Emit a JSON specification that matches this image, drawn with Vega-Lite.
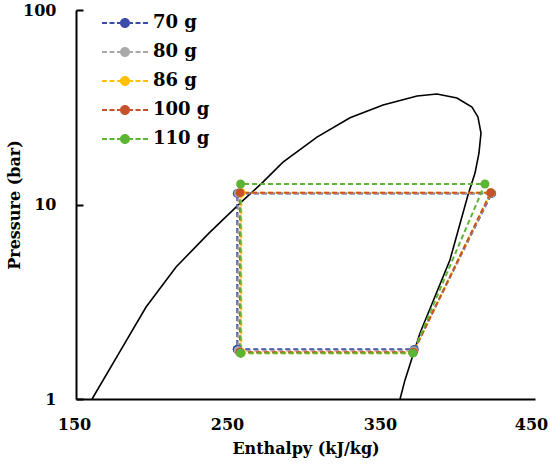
{
  "$schema": "https://vega.github.io/schema/vega-lite/v6.json",
  "autosize": {"type": "none"},
  "padding": {"left": 76, "top": 10, "right": 15, "bottom": 67},
  "width": 459,
  "height": 389,
  "background": "white",
  "config": {
    "view": {"stroke": null},
    "font": "DejaVu Serif",
    "axis": {
      "labelFont": "DejaVu Serif", "labelFontWeight": "bold", "labelFontSize": 16, "labelColor": "black",
      "titleFont": "DejaVu Serif", "titleFontWeight": "bold", "titleFontSize": 16, "titleColor": "black",
      "domainColor": "black", "domainWidth": 2, "grid": false
    }
  },
  "datasets": {
    "dome": [
      {"i": 1, "h": 160.5, "p": 1.0},
      {"i": 2, "h": 178.1, "p": 1.72},
      {"i": 3, "h": 195.8, "p": 2.97},
      {"i": 4, "h": 215.4, "p": 4.77},
      {"i": 5, "h": 236.9, "p": 7.13},
      {"i": 6, "h": 259.2, "p": 10.5},
      {"i": 7, "h": 272.0, "p": 13.0},
      {"i": 8, "h": 285.3, "p": 16.5},
      {"i": 9, "h": 307.5, "p": 22.2},
      {"i": 10, "h": 329.1, "p": 27.9},
      {"i": 11, "h": 350.7, "p": 32.5},
      {"i": 12, "h": 372.9, "p": 36.1},
      {"i": 13, "h": 385.9, "p": 37.0},
      {"i": 14, "h": 399.0, "p": 35.3},
      {"i": 15, "h": 408.8, "p": 31.7},
      {"i": 16, "h": 412.7, "p": 28.2},
      {"i": 17, "h": 414.7, "p": 23.3},
      {"i": 18, "h": 413.4, "p": 18.4},
      {"i": 19, "h": 410.8, "p": 14.5},
      {"i": 20, "h": 406.2, "p": 11.2},
      {"i": 21, "h": 394.4, "p": 5.18},
      {"i": 22, "h": 374.8, "p": 2.18},
      {"i": 23, "h": 365.0, "p": 1.25},
      {"i": 24, "h": 361.8, "p": 1.0}
    ],
    "cycles": [
      {"series": "70 g", "o": 1, "h": 255.4, "p": 1.8},
      {"series": "70 g", "o": 2, "h": 371.1, "p": 1.8},
      {"series": "70 g", "o": 3, "h": 421.7, "p": 11.4},
      {"series": "70 g", "o": 4, "h": 255.4, "p": 11.4},
      {"series": "70 g", "o": 5, "h": 255.4, "p": 1.8},
      {"series": "80 g", "o": 1, "h": 256.1, "p": 1.77},
      {"series": "80 g", "o": 2, "h": 370.8, "p": 1.77},
      {"series": "80 g", "o": 3, "h": 421.3, "p": 11.45},
      {"series": "80 g", "o": 4, "h": 256.1, "p": 11.45},
      {"series": "80 g", "o": 5, "h": 256.1, "p": 1.77},
      {"series": "86 g", "o": 1, "h": 258.0, "p": 1.73},
      {"series": "86 g", "o": 2, "h": 370.4, "p": 1.73},
      {"series": "86 g", "o": 3, "h": 421.0, "p": 11.5},
      {"series": "86 g", "o": 4, "h": 258.0, "p": 11.5},
      {"series": "86 g", "o": 5, "h": 258.0, "p": 1.73},
      {"series": "100 g", "o": 1, "h": 257.2, "p": 1.74},
      {"series": "100 g", "o": 2, "h": 370.5, "p": 1.74},
      {"series": "100 g", "o": 3, "h": 421.0, "p": 11.5},
      {"series": "100 g", "o": 4, "h": 257.2, "p": 11.5},
      {"series": "100 g", "o": 5, "h": 257.2, "p": 1.74},
      {"series": "110 g", "o": 1, "h": 257.6, "p": 1.72},
      {"series": "110 g", "o": 2, "h": 370.1, "p": 1.72},
      {"series": "110 g", "o": 3, "h": 417.3, "p": 12.75},
      {"series": "110 g", "o": 4, "h": 257.6, "p": 12.75},
      {"series": "110 g", "o": 5, "h": 257.6, "p": 1.72}
    ]
  },
  "encoding": {
    "x": {
      "field": "h", "type": "quantitative", "title": "Enthalpy (kJ/kg)",
      "scale": {"domain": [150, 450], "nice": false, "zero": false},
      "axis": {
        "values": [150, 250, 350, 450], "ticks": false, "labelPadding": 17, "titlePadding": 8, "labelFlush": false,
        "labelOffset": {"condition": {"test": "datum.value == 450", "value": -4}, "value": -2}
      }
    },
    "y": {
      "field": "p", "type": "quantitative", "title": "Pressure (bar)",
      "scale": {"type": "log", "domain": [1, 100], "nice": false},
      "axis": {"values": [1, 10, 100], "tickSize": -7, "tickColor": "black", "tickWidth": 2, "labelPadding": 27, "titlePadding": 0}
    }
  },
  "layer": [
    {
      "data": {"name": "dome"},
      "mark": {"type": "line", "color": "black", "strokeWidth": 1.6},
      "encoding": {"order": {"field": "i", "type": "quantitative"}}
    },
    {
      "data": {"name": "cycles"},
      "mark": {"type": "line", "strokeDash": [5, 3], "strokeWidth": 2},
      "encoding": {
        "order": {"field": "o", "type": "quantitative"},
        "color": {
          "field": "series", "type": "nominal", "legend": null,
          "scale": {"domain": ["70 g", "80 g", "86 g", "100 g", "110 g"], "range": ["#3B4BA6", "#A9A9A9", "#FFC000", "#C5522A", "#5DB535"]}
        }
      }
    },
    {
      "data": {"name": "cycles"},
      "mark": {"type": "point", "shape": "circle", "filled": true, "opacity": 1, "size": 80},
      "encoding": {
        "color": {
          "field": "series", "type": "nominal",
          "scale": {"domain": ["70 g", "80 g", "86 g", "100 g", "110 g"], "range": ["#3B4BA6", "#A9A9A9", "#FFC000", "#C5522A", "#5DB535"]},
          "legend": {
            "title": null, "orient": "none", "legendX": 40, "legendY": 4, "padding": 0,
            "symbolType": "M-4.6,-0.2H-3.6V0.2H-4.6Z M-3.1,-0.2H-2.1V0.2H-3.1Z M-1.6,-0.2H-1V0.2H-1.6Z M1,-0.2H1.6V0.2H1Z M2.1,-0.2H3.1V0.2H2.1Z M3.6,-0.2H4.6V0.2H3.6Z M-1,0A1,1 0 1,0 1,0A1,1 0 1,0 -1,0Z",
            "symbolSize": 100, "symbolStrokeWidth": 0, "symbolOpacity": 1,
            "labelFont": "DejaVu Serif", "labelFontWeight": "bold", "labelFontSize": 18, "labelColor": "black",
            "labelOffset": 19, "rowPadding": 11
          }
        }
      }
    }
  ],
  "resolve": {"legend": {"color": "independent"}}
}
